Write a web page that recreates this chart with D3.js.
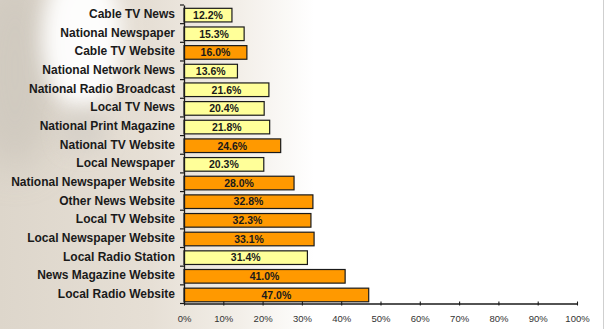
<!DOCTYPE html>
<html>
<head>
<meta charset="utf-8">
<script src="https://cdn.jsdelivr.net/npm/d3@7"></script>
<style>
  html, body { margin: 0; padding: 0; background: #fff; }
  svg { display: block; }
</style>
</head>
<body>
<svg id="chart" width="604" height="329"></svg>
<script>
// News sources, top to bottom
const categories = [
  "Cable TV News", "National Newspaper", "Cable TV Website", "National Network News",
  "National Radio Broadcast", "Local TV News", "National Print Magazine", "National TV Website",
  "Local Newspaper", "National Newspaper Website", "Other News Website", "Local TV Website",
  "Local Newspaper Website", "Local Radio Station", "News Magazine Website", "Local Radio Website"
];
// Share of respondents (%)
const values = [12.2, 15.3, 16.0, 13.6, 21.6, 20.4, 21.8, 24.6, 20.3, 28.0, 32.8, 32.3, 33.1, 31.4, 41.0, 47.0];
// Medium of each source: traditional outlet or website
const kinds = ["trad", "trad", "web", "trad", "trad", "trad", "trad", "web",
               "trad", "web", "web", "web", "web", "trad", "web", "web"];
const xTicks = [0, 10, 20, 30, 40, 50, 60, 70, 80, 90, 100];

const svg = d3.select("#chart");
const W = 604, H = 329;

// ---- soft photographic backdrop ----
const defs = svg.append("defs");
const fade = defs.append("linearGradient").attr("id", "fade").attr("x1", 0).attr("x2", 1).attr("y1", 0).attr("y2", 0);
fade.append("stop").attr("offset", 0).attr("stop-color", "#ddd6cb");
fade.append("stop").attr("offset", 0.25).attr("stop-color", "#e6dfd5");
fade.append("stop").attr("offset", 0.40).attr("stop-color", "#f3efe9");
fade.append("stop").attr("offset", 0.52).attr("stop-color", "#ffffff");
fade.append("stop").attr("offset", 1).attr("stop-color", "#ffffff");

function softFilter(id, sd) {
  const f = defs.append("filter").attr("id", id).attr("filterUnits", "userSpaceOnUse")
    .attr("x", -200).attr("y", -200).attr("width", 1000).attr("height", 800);
  f.append("feGaussianBlur").attr("stdDeviation", sd);
}
softFilter("soft", 10);
softFilter("soft2", 18);

const bg = svg.append("g");
bg.append("rect").attr("width", W).attr("height", H).attr("fill", "url(#fade)");
// darker shade at the upper left
bg.append("ellipse").attr("cx", 15).attr("cy", 70).attr("rx", 45).attr("ry", 100)
  .attr("fill", "#ccc6bc").attr("opacity", 0.75).attr("filter", "url(#soft2)");
// bulb glow
bg.append("ellipse").attr("cx", 82).attr("cy", 38).attr("rx", 40).attr("ry", 72)
  .attr("fill", "#ffffff").attr("opacity", 0.95).attr("filter", "url(#soft)");
// bulb neck
bg.append("rect").attr("x", 62).attr("y", 108).attr("width", 44).attr("height", 42).attr("rx", 10)
  .attr("fill", "#d3cec6").attr("opacity", 0.7).attr("filter", "url(#soft)");
// faint right edge
bg.append("line").attr("x1", W - 0.5).attr("x2", W - 0.5).attr("y1", 0).attr("y2", H)
  .attr("stroke", "#cfcfcf").attr("stroke-width", 1);

// ---- chart ----
const x0 = 184, x1 = 577, yTop = 5, yBot = 303.5;
const x = d3.scaleLinear().domain([0, 100]).range([x0, x1]);
const y = d3.scaleBand().domain(categories).range([yTop, yBot]).paddingInner(0).paddingOuter(0);
const barPad = 0.27;
const color = d3.scaleOrdinal().domain(["trad", "web"]).range(["#ffff99", "#ff9900"]);

const g = svg.append("g");

// bars
g.selectAll("rect.bar").data(categories).join("rect")
  .attr("class", "bar")
  .attr("x", x(0))
  .attr("y", d => y(d) + y.bandwidth() * barPad / 2 + 0.8)
  .attr("width", (d, i) => x(values[i]) - x(0))
  .attr("height", y.bandwidth() * (1 - barPad))
  .attr("fill", (d, i) => color(kinds[i]))
  .attr("stroke", "#1a1a1a")
  .attr("stroke-width", 1.2);

// value labels
g.selectAll("text.val").data(categories).join("text")
  .attr("class", "val")
  .attr("x", (d, i) => (x(0) + x(values[i])) / 2)
  .attr("y", d => y(d) + y.bandwidth() / 2 + 0.8)
  .attr("dy", "0.36em")
  .attr("text-anchor", "middle")
  .attr("font-family", "'Liberation Sans', Arial, sans-serif")
  .attr("font-weight", "bold")
  .attr("font-size", 10.5)
  .attr("fill", "#1a1a1a")
  .text((d, i) => values[i].toFixed(1) + "%");

// y axis: labels via axisLeft, ticks at band boundaries
const yAxis = g.append("g").attr("transform", `translate(${x0},0)`)
  .call(d3.axisLeft(y).tickSize(0).tickPadding(9));
yAxis.select(".domain").attr("stroke", "#1a1a1a").attr("stroke-width", 1.3);
yAxis.selectAll("text")
  .attr("font-family", "'Liberation Sans', Arial, sans-serif")
  .attr("font-weight", "bold")
  .attr("font-size", 12)
  .attr("fill", "#1a1a1a");
const bounds = categories.map(c => y(c)).concat([yBot]);
g.selectAll("line.ytick").data(bounds).join("line")
  .attr("class", "ytick")
  .attr("x1", x0 - 4).attr("x2", x0)
  .attr("y1", d => d).attr("y2", d => d)
  .attr("stroke", "#1a1a1a").attr("stroke-width", 1.2);

// x axis
const xAxis = g.append("g").attr("transform", `translate(0,${yBot})`)
  .call(d3.axisBottom(x).tickValues(xTicks).tickFormat(d => d + "%").tickSize(4).tickPadding(8).tickSizeOuter(0));
xAxis.select(".domain").attr("stroke", "#1a1a1a").attr("stroke-width", 1.3);
xAxis.selectAll(".tick line").attr("stroke", "#1a1a1a").attr("stroke-width", 1.1).attr("y1", -2).attr("y2", 2);
xAxis.selectAll("text")
  .attr("font-family", "'Liberation Sans', Arial, sans-serif")
  .attr("font-size", 9.5)
  .attr("fill", "#333");
</script>
</body>
</html>
